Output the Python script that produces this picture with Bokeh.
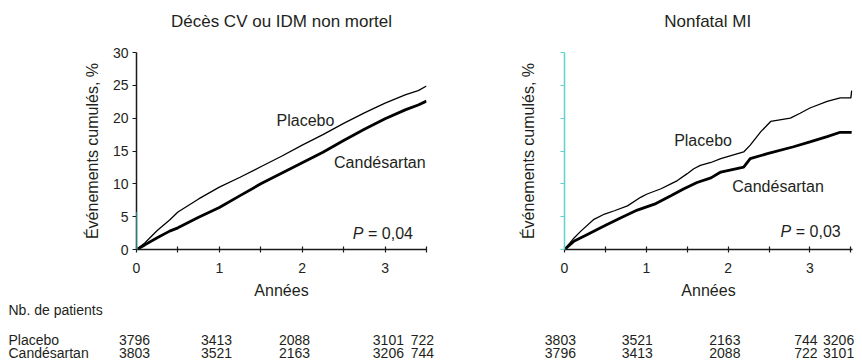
from bokeh.plotting import figure
from bokeh.models import Label, FixedTicker, Range1d, Arrow, CustomJSTickFormatter
from bokeh.layouts import row, column
from bokeh.core.properties import value
from bokeh.embed import file_html
from bokeh.resources import INLINE

# ---------------- data ----------------
years_left = [0, 0.1, 0.25, 0.4, 0.5, 0.75, 1.0, 1.25, 1.5, 1.75, 2.0, 2.25, 2.5, 2.75, 3.0, 3.25, 3.4, 3.5]
placebo_left = [0, 1.0, 2.9, 4.5, 5.7, 7.7, 9.5, 11.0, 12.6, 14.2, 15.9, 17.5, 19.2, 20.8, 22.3, 23.6, 24.2, 24.9]
cand_left = [0, 0.7, 1.8, 2.8, 3.3, 4.9, 6.4, 8.2, 10.0, 11.6, 13.2, 14.8, 16.6, 18.3, 19.9, 21.3, 22.0, 22.6]

years_right_placebo = [0, 0.12, 0.2, 0.36, 0.49, 0.61, 0.77, 0.93, 1.01, 1.18, 1.30, 1.38, 1.50, 1.58, 1.66,
                       1.79, 1.91, 2.19, 2.27, 2.40, 2.52, 2.76, 2.88, 3.0, 3.21, 3.37, 3.50, 3.51]
placebo_right = [0, 1.8, 2.8, 4.6, 5.4, 5.9, 6.65, 7.95, 8.45, 9.25, 10.0, 10.5, 11.55, 12.3, 12.8,
                 13.25, 13.85, 14.85, 15.9, 17.95, 19.5, 20.0, 20.75, 21.55, 22.55, 23.1, 23.1, 24.2]
years_right_cand = [0, 0.12, 0.28, 0.49, 0.69, 0.89, 1.10, 1.30, 1.46, 1.62, 1.79, 1.91, 2.19, 2.27,
                    2.48, 2.80, 3.0, 3.21, 3.37, 3.51]
cand_right = [0, 1.3, 2.3, 3.6, 4.85, 6.0, 6.9, 8.2, 9.25, 10.2, 10.9, 11.8, 12.55, 13.85,
              14.6, 15.65, 16.4, 17.2, 17.85, 17.85]

year_ticks = [0, 1, 2, 3]
half_year_ticks = [0.5, 1.5, 2.5, 3.5]
pct_ticks = [0, 5, 10, 15, 20, 25, 30]

titles = ["Décès CV ou IDM non mortel", "Nonfatal MI"]
y_label = "Événements cumulés, %"
x_label = "Années"
p_values = ["0,04", "0,03"]

table_title = "Nb. de patients"
row_names = ["Placebo", "Candésartan"]
left_table_x = [-0.024, 0.966, 1.907, 3.04, 3.45]
left_row1 = ["3796", "3413", "2088", "3101", "722"]
left_row2 = ["3803", "3521", "2163", "3206", "744"]
right_table_x = [-0.05, 0.89, 1.96, 2.95, 3.35]
right_row1 = ["3803", "3521", "2163", "744", "3206"]
right_row2 = ["3796", "3413", "2088", "722", "3101"]

# ---------------- style ----------------
FONT = "Liberation Sans"
TXT = "#231f20"
CYAN = "#5ed3cf"
HEAD_H = 40
TOP_H = 261
TABLE_H = 60


def lab(p, x, y, text, size="16px", align="left", style="normal", x_offset=0):
    p.add_layout(Label(x=x, y=y, text=text, text_font=FONT, text_font_size=size,
                       text_color=TXT, text_align=align, text_baseline="middle",
                       text_font_style=style, x_offset=x_offset))


def panel(width, border_left, border_right, x_end, cyan_axis):
    p = figure(width=width, height=TOP_H, x_range=Range1d(0, x_end), y_range=Range1d(0, 30),
               output_backend="svg", toolbar_location=None,
               min_border_left=border_left, min_border_right=border_right,
               min_border_top=12, min_border_bottom=52)
    p.outline_line_color = None
    p.grid.visible = False
    p.background_fill_color = "white"
    p.border_fill_color = "white"

    xa = p.xaxis[0]
    xa.ticker = FixedTicker(ticks=year_ticks, minor_ticks=half_year_ticks)
    xa.axis_line_color = "#1a1a1a"
    xa.axis_line_width = 1.5
    xa.major_tick_in = 3
    xa.major_tick_out = 3
    xa.minor_tick_in = 3
    xa.minor_tick_out = 3
    xa.major_tick_line_color = "#1a1a1a"
    xa.minor_tick_line_color = "#1a1a1a"
    xa.major_tick_line_width = 1.2
    xa.minor_tick_line_width = 1.2
    xa.major_label_text_font = FONT
    xa.major_label_text_font_size = "14px"
    xa.major_label_text_color = TXT
    xa.major_label_standoff = 10
    xa.axis_label = x_label
    xa.axis_label_text_font = FONT
    xa.axis_label_text_font_size = "16px"
    xa.axis_label_text_font_style = "normal"
    xa.axis_label_text_color = TXT
    xa.axis_label_standoff = 6

    ya = p.yaxis[0]
    ya.ticker = FixedTicker(ticks=pct_ticks)
    ya.minor_tick_line_color = None
    ya.major_tick_in = 0
    ya.major_tick_out = 4
    ya.axis_line_width = 1.5
    ya.major_tick_line_width = 1.2
    ya.axis_label = y_label
    ya.axis_label_text_font = FONT
    ya.axis_label_text_font_size = "16px"
    ya.axis_label_text_font_style = "normal"
    ya.axis_label_text_color = TXT
    ya.major_label_text_font = FONT
    ya.major_label_text_font_size = "14px"
    ya.major_label_text_color = TXT
    ya.major_label_standoff = 4
    if cyan_axis:
        ya.axis_line_color = CYAN
        ya.major_tick_line_color = CYAN
        ya.formatter = CustomJSTickFormatter(code="return ''")
        ya.axis_label_standoff = 24
    else:
        ya.axis_line_color = "#1a1a1a"
        ya.major_tick_line_color = "#1a1a1a"
        ya.axis_label_standoff = 9
    return p


def strip_fig(width, height, border_left, px_per_year):
    # frame spans the whole figure; x in the same year units as the panel below/above
    x0 = -border_left / px_per_year
    x1 = (width - border_left) / px_per_year
    t = figure(width=width, height=height, x_range=Range1d(x0, x1), y_range=Range1d(0, height),
               output_backend="svg", toolbar_location=None,
               min_border_left=0, min_border_right=0, min_border_top=0, min_border_bottom=0)
    t.axis.visible = False
    t.grid.visible = False
    t.outline_line_color = None
    t.background_fill_color = "white"
    t.border_fill_color = "white"
    return t


def strip_text(t, xs, ys, texts, align, size="14px"):
    t.text(x=xs, y=ys, text=texts, text_font=value(FONT), text_font_size=value(size),
           text_color=TXT, text_align=align, text_baseline="middle")


LEFT_PPY = 290 / 3.5
RIGHT_PPY = 288 / 3.52

# ---------------- titles ----------------
TITLE_Y = 19
h1 = strip_fig(438, HEAD_H, 136, LEFT_PPY)
strip_text(h1, [1.75], [TITLE_Y], [titles[0]], "center", size="17px")
h2 = strip_fig(424, HEAD_H, 126, RIGHT_PPY)
strip_text(h2, [1.75], [TITLE_Y], [titles[1]], "center", size="17px")

# ---------------- left panel ----------------
p1 = panel(438, 136, 12, 3.5, False)
p1.line(years_left, placebo_left, line_color="black", line_width=1.3)
p1.line(years_left, cand_left, line_color="black", line_width=2.8)
p1.add_layout(Arrow(end=None, x_start=0, y_start=0, x_end=0, y_end=5.7,
                    line_color=CYAN, line_width=2))
lab(p1, 1.69, 19.6, "Placebo")
lab(p1, 3.49, 13.3, "Candésartan", align="right")
lab(p1, 3.39, 2.5, " = " + p_values[0], align="right")
lab(p1, 3.39, 2.5, "P", align="right", style="italic", x_offset=-54)

# ---------------- right panel ----------------
p2 = panel(424, 126, 10, 3.52, True)
p2.line(years_right_placebo, placebo_right, line_color="black", line_width=1.3)
p2.line(years_right_cand, cand_right, line_color="black", line_width=2.8)
lab(p2, 1.34, 16.6, "Placebo")
lab(p2, 2.05, 9.6, "Candésartan")
lab(p2, 3.43, 2.8, " = " + p_values[1], align="right")
lab(p2, 3.43, 2.8, "P", align="right", style="italic", x_offset=-54)

# ---------------- patient tables ----------------
ROW_TITLE_Y, ROW1_Y, ROW2_Y = 52, 22, 8.5
t1 = strip_fig(438, TABLE_H, 136, LEFT_PPY)
x_lab = -128 / LEFT_PPY
strip_text(t1, [x_lab, x_lab, x_lab], [ROW_TITLE_Y, ROW1_Y, ROW2_Y],
           [table_title] + row_names, "left")
strip_text(t1, left_table_x, [ROW1_Y] * len(left_table_x), left_row1, "center")
strip_text(t1, left_table_x, [ROW2_Y] * len(left_table_x), left_row2, "center")

t2 = strip_fig(424, TABLE_H, 126, RIGHT_PPY)
strip_text(t2, right_table_x, [ROW1_Y] * len(right_table_x), right_row1, "center")
strip_text(t2, right_table_x, [ROW2_Y] * len(right_table_x), right_row2, "center")

layout = column(row(h1, h2), row(p1, p2), row(t1, t2))
open("out.html", "w").write(file_html(layout, INLINE))
